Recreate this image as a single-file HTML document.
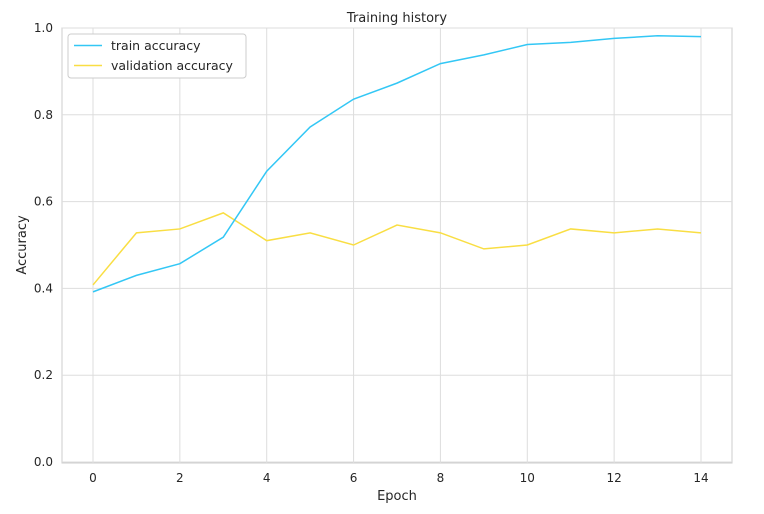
<!DOCTYPE html>
<html><head><meta charset="utf-8"><style>
body{margin:0;background:#fff;}
svg text{font-family:"DejaVu Sans","Liberation Sans",sans-serif;fill:#262626;}
</style></head><body>
<svg id="chart" width="764" height="509" xmlns="http://www.w3.org/2000/svg">
<rect x="62" y="28" width="670" height="435" fill="#fff" stroke="#cccccc"/>
<g id="grid"></g><g id="ticks"></g><g id="lines"></g>
<text x="397" y="22" text-anchor="middle" font-size="13">Training history</text>
<text x="397" y="500" text-anchor="middle" font-size="13">Epoch</text>
<text x="26" y="245" text-anchor="middle" font-size="13" transform="rotate(-90 26 245)">Accuracy</text>
<g>
<rect x="68" y="34" width="178" height="44" rx="3" fill="#fff" stroke="#cccccc"/>
<line x1="74" y1="45.5" x2="102" y2="45.5" stroke="#33c7f5" stroke-width="1.5"/>
<text x="111" y="50" font-size="12.5">train accuracy</text>
<line x1="74" y1="65.5" x2="102" y2="65.5" stroke="#f9de43" stroke-width="1.5"/>
<text x="111" y="70" font-size="12.5">validation accuracy</text>
</g>
</svg>
<script>
const epochs=[0,1,2,3,4,5,6,7,8,9,10,11,12,13,14];
const trainAcc=[0.392,0.430,0.457,0.518,0.670,0.772,0.836,0.873,0.918,0.938,0.962,0.967,0.976,0.982,0.980];
const valAcc=[0.408,0.528,0.537,0.574,0.510,0.528,0.500,0.546,0.528,0.491,0.500,0.537,0.528,0.537,0.528];
const xTicks=[0,2,4,6,8,10,12,14];
const yTicks=[0,0.2,0.4,0.6,0.8,1.0];
const NS="http://www.w3.org/2000/svg";
const xs=v=>93+v*(701-93)/14;
const ys=v=>462-v*434;
function mk(t,a,p){const e=document.createElementNS(NS,t);for(const k in a)e.setAttribute(k,a[k]);p.appendChild(e);return e;}
const g=document.getElementById('grid'),tk=document.getElementById('ticks'),ln=document.getElementById('lines');
xTicks.forEach(v=>{
 const l=mk('line',{x1:xs(v),x2:xs(v),y1:28,y2:463,stroke:'#dddddd'},g);
 
 
 const t=mk('text',{x:xs(v),y:482,'text-anchor':'middle','font-size':12},tk);t.textContent=v;
 
 
});
yTicks.forEach(v=>{
 const l=mk('line',{x1:62,x2:732,y1:ys(v),y2:ys(v),stroke:'#dddddd'},g);
 
 
 const t=mk('text',{x:53,y:ys(v)+4,'text-anchor':'end','font-size':12},tk);t.textContent=v.toFixed(1);
 
 
});
function series(vals,color,name){
 const p=mk('polyline',{points:vals.map((v,i)=>xs(epochs[i])+','+ys(v)).join(' '),fill:'none',stroke:color,'stroke-width':1.5},ln);
 
 
}
series(valAcc,'#f9de43','validation-accuracy-line');
series(trainAcc,'#33c7f5','train-accuracy-line');
</script>
</body></html>
